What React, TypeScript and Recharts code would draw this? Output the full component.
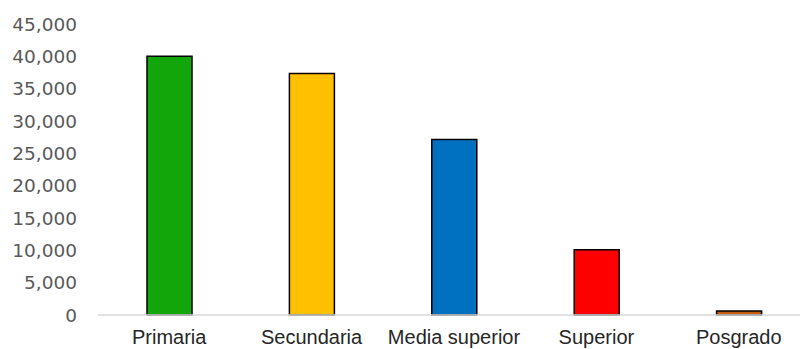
import { BarChart, Bar, XAxis, YAxis, Cell } from "recharts";

const NIVELES = ["Primaria", "Secundaria", "Media superior", "Superior", "Posgrado"];
const ALUMNOS = [40000, 37350, 27150, 10100, 600];
const COLORES = ["#13A60A", "#FFC000", "#0070C0", "#FF0000", "#C55A11"];
const Y_TICKS = [0, 5000, 10000, 15000, 20000, 25000, 30000, 35000, 40000, 45000];

const data = NIVELES.map((name, i) => ({ name, value: ALUMNOS[i] }));

export default function App() {
  return (
    <div style={{ position: "absolute", left: 0, top: 0, width: 800, height: 349, overflow: "hidden", background: "#fff" }}>
      <BarChart width={810} height={349} data={data} margin={{ top: 24, right: 0, left: 0, bottom: 0 }}>
        <XAxis
          dataKey="name"
          height={34}
          tickLine={false}
          tickMargin={9}
          axisLine={{ stroke: "#d9d9d9", strokeWidth: 1.5 }}
          tick={{ fontSize: 20, fill: "#262626", fontFamily: "Liberation Sans, Arial, sans-serif" }}
          interval={0}
        />
        <YAxis
          width={98}
          domain={[0, 45000]}
          ticks={Y_TICKS}
          axisLine={false}
          tickLine={false}
          tickMargin={15}
          tickFormatter={(v: number) => v.toLocaleString("en-US")}
          tick={{ fontSize: 18.5, fill: "#595959", fontFamily: "DejaVu Sans, sans-serif" }}
        />
        <Bar dataKey="value" barSize={45} stroke="#000" strokeWidth={1.5} isAnimationActive={false}>
          {data.map((entry, index) => (
            <Cell key={`cell-${index}`} fill={COLORES[index]} />
          ))}
        </Bar>
      </BarChart>
    </div>
  );
}
